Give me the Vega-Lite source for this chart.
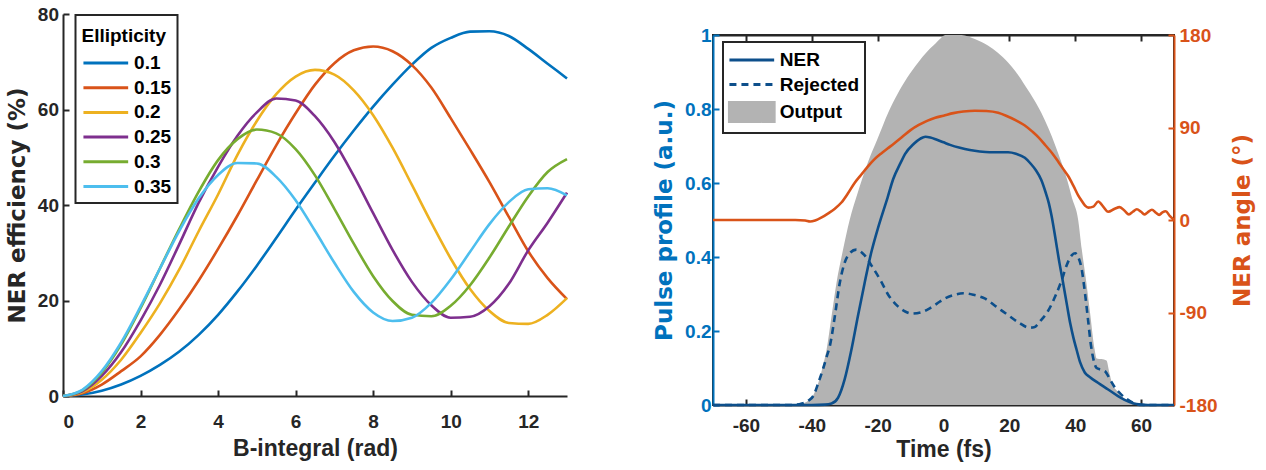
{
  "$schema": "https://vega.github.io/schema/vega-lite/v6.json",
  "background": "white",
  "padding": {"left": 6, "top": 5, "right": 2, "bottom": 2},
  "config": {
    "font": "Liberation Sans",
    "view": {"stroke": null},
    "axis": {
      "labelFont": "Liberation Sans", "titleFont": "Liberation Sans",
      "labelFontWeight": "bold", "titleFontWeight": "bold",
      "labelFontSize": 19, "titleFontSize": 23,
      "labelColor": "#262626", "titleColor": "#262626",
      "domainColor": "#262626", "tickColor": "#262626",
      "domainWidth": 2, "tickWidth": 2, "grid": false,
      "tickSize": -6, "labelPadding": 12, "zindex": 1
    },
    "axisY": {"titleFont": "DejaVu Sans", "titleFontSize": 23},
    "concat": {"spacing": 79}
  },
  "resolve": {"scale": {"color": "independent"}, "legend": {"color": "independent"}},
  "hconcat": [
    {
      "width": 504,
      "height": 382,
      "data": {"values": [
        {"b":0,"e":0,"k":"0.1"},{"b":0.5,"e":0.3,"k":"0.1"},{"b":1,"e":1.1,"k":"0.1"},{"b":1.5,"e":2.4,"k":"0.1"},{"b":2,"e":4.2,"k":"0.1"},{"b":2.5,"e":6.5,"k":"0.1"},{"b":3,"e":9.3,"k":"0.1"},{"b":3.5,"e":12.8,"k":"0.1"},{"b":4,"e":17.0,"k":"0.1"},{"b":4.5,"e":21.9,"k":"0.1"},{"b":5,"e":27.3,"k":"0.1"},{"b":5.5,"e":33.1,"k":"0.1"},{"b":6,"e":39.0,"k":"0.1"},{"b":6.5,"e":44.7,"k":"0.1"},{"b":7,"e":50.3,"k":"0.1"},{"b":7.5,"e":55.6,"k":"0.1"},{"b":8,"e":60.6,"k":"0.1"},{"b":8.5,"e":65.2,"k":"0.1"},{"b":9,"e":69.4,"k":"0.1"},{"b":9.5,"e":72.9,"k":"0.1"},{"b":10,"e":75.0,"k":"0.1"},{"b":10.5,"e":76.3,"k":"0.1"},{"b":11,"e":76.4,"k":"0.1"},{"b":11.5,"e":75.4,"k":"0.1"},{"b":12,"e":72.7,"k":"0.1"},{"b":12.5,"e":69.6,"k":"0.1"},{"b":13,"e":66.5,"k":"0.1"},
        {"b":0,"e":0,"k":"0.15"},{"b":0.5,"e":0.6,"k":"0.15"},{"b":1,"e":2.4,"k":"0.15"},{"b":1.5,"e":5.2,"k":"0.15"},{"b":2,"e":8.3,"k":"0.15"},{"b":2.5,"e":12.8,"k":"0.15"},{"b":3,"e":18.2,"k":"0.15"},{"b":3.5,"e":24.2,"k":"0.15"},{"b":4,"e":30.8,"k":"0.15"},{"b":4.5,"e":37.8,"k":"0.15"},{"b":5,"e":45.2,"k":"0.15"},{"b":5.5,"e":52.5,"k":"0.15"},{"b":6,"e":59.2,"k":"0.15"},{"b":6.5,"e":65.2,"k":"0.15"},{"b":7,"e":69.7,"k":"0.15"},{"b":7.5,"e":72.4,"k":"0.15"},{"b":8,"e":73.2,"k":"0.15"},{"b":8.5,"e":72.2,"k":"0.15"},{"b":9,"e":69.3,"k":"0.15"},{"b":9.5,"e":64.6,"k":"0.15"},{"b":10,"e":58.2,"k":"0.15"},{"b":10.5,"e":51.6,"k":"0.15"},{"b":11,"e":44.8,"k":"0.15"},{"b":11.5,"e":37.5,"k":"0.15"},{"b":12,"e":30.3,"k":"0.15"},{"b":12.5,"e":24.7,"k":"0.15"},{"b":13,"e":20.3,"k":"0.15"},
        {"b":0,"e":0,"k":"0.2"},{"b":0.5,"e":0.8,"k":"0.2"},{"b":1,"e":3.4,"k":"0.2"},{"b":1.5,"e":7.6,"k":"0.2"},{"b":2,"e":13.2,"k":"0.2"},{"b":2.5,"e":19.4,"k":"0.2"},{"b":3,"e":26.5,"k":"0.2"},{"b":3.5,"e":34.5,"k":"0.2"},{"b":4,"e":42.2,"k":"0.2"},{"b":4.5,"e":50.5,"k":"0.2"},{"b":5,"e":57.6,"k":"0.2"},{"b":5.5,"e":63.2,"k":"0.2"},{"b":6,"e":66.9,"k":"0.2"},{"b":6.5,"e":68.3,"k":"0.2"},{"b":7,"e":67.3,"k":"0.2"},{"b":7.5,"e":64.0,"k":"0.2"},{"b":8,"e":58.8,"k":"0.2"},{"b":8.5,"e":52.0,"k":"0.2"},{"b":9,"e":44.2,"k":"0.2"},{"b":9.5,"e":36.3,"k":"0.2"},{"b":10,"e":28.8,"k":"0.2"},{"b":10.5,"e":22.4,"k":"0.2"},{"b":11,"e":17.8,"k":"0.2"},{"b":11.5,"e":15.3,"k":"0.2"},{"b":12,"e":15.1,"k":"0.2"},{"b":12.5,"e":17.0,"k":"0.2"},{"b":13,"e":20.5,"k":"0.2"},
        {"b":0,"e":0,"k":"0.25"},{"b":0.5,"e":1.0,"k":"0.25"},{"b":1,"e":4.2,"k":"0.25"},{"b":1.5,"e":9.2,"k":"0.25"},{"b":2,"e":15.8,"k":"0.25"},{"b":2.5,"e":23.3,"k":"0.25"},{"b":3,"e":31.8,"k":"0.25"},{"b":3.5,"e":40.5,"k":"0.25"},{"b":4,"e":48.0,"k":"0.25"},{"b":4.5,"e":54.5,"k":"0.25"},{"b":5,"e":59.4,"k":"0.25"},{"b":5.5,"e":62.3,"k":"0.25"},{"b":6,"e":61.9,"k":"0.25"},{"b":6.5,"e":58.6,"k":"0.25"},{"b":7,"e":53.2,"k":"0.25"},{"b":7.5,"e":46.1,"k":"0.25"},{"b":8,"e":38.3,"k":"0.25"},{"b":8.5,"e":30.6,"k":"0.25"},{"b":9,"e":23.9,"k":"0.25"},{"b":9.5,"e":19.0,"k":"0.25"},{"b":10,"e":16.4,"k":"0.25"},{"b":10.5,"e":16.6,"k":"0.25"},{"b":11,"e":18.8,"k":"0.25"},{"b":11.5,"e":23.5,"k":"0.25"},{"b":12,"e":30.5,"k":"0.25"},{"b":12.5,"e":36.3,"k":"0.25"},{"b":13,"e":42.6,"k":"0.25"},
        {"b":0,"e":0,"k":"0.3"},{"b":0.5,"e":1.2,"k":"0.3"},{"b":1,"e":4.9,"k":"0.3"},{"b":1.5,"e":10.8,"k":"0.3"},{"b":2,"e":18.4,"k":"0.3"},{"b":2.5,"e":26.7,"k":"0.3"},{"b":3,"e":35.0,"k":"0.3"},{"b":3.5,"e":42.8,"k":"0.3"},{"b":4,"e":49.4,"k":"0.3"},{"b":4.5,"e":53.8,"k":"0.3"},{"b":5,"e":55.8,"k":"0.3"},{"b":5.5,"e":55.0,"k":"0.3"},{"b":6,"e":51.7,"k":"0.3"},{"b":6.5,"e":46.2,"k":"0.3"},{"b":7,"e":39.2,"k":"0.3"},{"b":7.5,"e":31.9,"k":"0.3"},{"b":8,"e":25.1,"k":"0.3"},{"b":8.5,"e":19.9,"k":"0.3"},{"b":9,"e":17.0,"k":"0.3"},{"b":9.5,"e":16.7,"k":"0.3"},{"b":10,"e":18.9,"k":"0.3"},{"b":10.5,"e":23.2,"k":"0.3"},{"b":11,"e":29.0,"k":"0.3"},{"b":11.5,"e":35.5,"k":"0.3"},{"b":12,"e":41.8,"k":"0.3"},{"b":12.5,"e":46.9,"k":"0.3"},{"b":13,"e":49.6,"k":"0.3"},
        {"b":0,"e":0,"k":"0.35"},{"b":0.5,"e":1.3,"k":"0.35"},{"b":1,"e":5.2,"k":"0.35"},{"b":1.5,"e":11.2,"k":"0.35"},{"b":2,"e":18.7,"k":"0.35"},{"b":2.5,"e":26.7,"k":"0.35"},{"b":3,"e":34.6,"k":"0.35"},{"b":3.5,"e":41.4,"k":"0.35"},{"b":4,"e":46.3,"k":"0.35"},{"b":4.5,"e":48.8,"k":"0.35"},{"b":5,"e":48.7,"k":"0.35"},{"b":5.5,"e":45.9,"k":"0.35"},{"b":6,"e":41.0,"k":"0.35"},{"b":6.5,"e":34.6,"k":"0.35"},{"b":7,"e":27.9,"k":"0.35"},{"b":7.5,"e":21.8,"k":"0.35"},{"b":8,"e":17.5,"k":"0.35"},{"b":8.5,"e":15.7,"k":"0.35"},{"b":9,"e":16.4,"k":"0.35"},{"b":9.5,"e":19.5,"k":"0.35"},{"b":10,"e":24.4,"k":"0.35"},{"b":10.5,"e":30.2,"k":"0.35"},{"b":11,"e":36.0,"k":"0.35"},{"b":11.5,"e":40.6,"k":"0.35"},{"b":12,"e":43.3,"k":"0.35"},{"b":12.5,"e":43.5,"k":"0.35"},{"b":13,"e":42.0,"k":"0.35"}
      ]},
      "mark": {"type": "line", "strokeWidth": 2.6, "interpolate": "monotone"},
      "encoding": {
        "x": {"field": "b", "type": "quantitative", "scale": {"domain": [0, 13], "nice": false},
              "axis": {"values": [0, 2, 4, 6, 8, 10, 12], "title": "B-integral (rad)", "labelPadding": 22, "titlePadding": 6}},
        "y": {"field": "e", "type": "quantitative", "scale": {"domain": [0, 80], "nice": false},
              "axis": {"values": [0, 20, 40, 60, 80], "title": "NER efficiency (%)", "labelPadding": 10.5, "titlePadding": 8}},
        "color": {"field": "k", "type": "nominal",
                  "scale": {"domain": ["0.1", "0.15", "0.2", "0.25", "0.3", "0.35"],
                            "range": ["#0072BD", "#D95319", "#EDB120", "#7E2F8E", "#77AC30", "#4DBEEE"]},
                  "legend": {"orient": "none", "legendX": 12.5, "legendY": 1, "title": "Ellipticity",
                             "titleFont": "Liberation Sans", "titleFontSize": 19, "titleFontWeight": "bold", "titleColor": "#000000",
                             "labelFont": "Liberation Sans", "labelFontSize": 19, "labelFontWeight": "bold", "labelColor": "#000000",
                             "symbolSize": 500, "symbolOffset": 11.3, "labelOffset": 15.3,
                             "strokeColor": "#262626", "fillColor": "white", "padding": 6,
                             "rowPadding": 1.7, "titlePadding": 10,
                             "encode": {
                               "legend": {"update": {"strokeWidth": {"value": 2}}},
                               "title": {"update": {"dy": {"value": 6}}},
                               "symbols": {"update": {
                                 "shape": {"value": "M-2,0H2"},
                                 "strokeWidth": {"value": 3},
                                 "fill": {"value": "transparent"},
                                 "opacity": {"value": 1}
                               }}
                             }}}
      }
    },
    {
      "spacing": 7,
      "vconcat": [
        {
          "width": 461,
          "height": 1,
          "data": {"values": [{"z": 0}]},
          "mark": {"type": "point", "opacity": 0}
        },
        {
          "width": 461,
          "height": 370,
          "view": {"stroke": "#262626", "strokeWidth": 2},
          "layer": [
            {
              "data": {"values": [
                {"t":-70,"v":0,"s":"Output"},{"t":-45,"v":0,"s":"Output"},{"t":-43,"v":0.003,"s":"Output"},{"t":-41,"v":0.012,"s":"Output"},{"t":-40,"v":0.02,"s":"Output"},{"t":-38,"v":0.06,"s":"Output"},{"t":-36.5,"v":0.11,"s":"Output"},{"t":-35.5,"v":0.15,"s":"Output"},{"t":-34,"v":0.24,"s":"Output"},{"t":-32.5,"v":0.33,"s":"Output"},{"t":-30.5,"v":0.42,"s":"Output"},{"t":-28.5,"v":0.5,"s":"Output"},{"t":-26,"v":0.575,"s":"Output"},{"t":-23,"v":0.655,"s":"Output"},{"t":-20,"v":0.72,"s":"Output"},{"t":-16.8,"v":0.79,"s":"Output"},{"t":-14,"v":0.84,"s":"Output"},{"t":-11,"v":0.885,"s":"Output"},{"t":-7.7,"v":0.926,"s":"Output"},{"t":-5,"v":0.955,"s":"Output"},{"t":-3,"v":0.972,"s":"Output"},{"t":-1,"v":0.99,"s":"Output"},{"t":0.5,"v":1.0,"s":"Output"},{"t":5.5,"v":1.0,"s":"Output"},{"t":9.5,"v":0.989,"s":"Output"},{"t":13.6,"v":0.971,"s":"Output"},{"t":16.5,"v":0.952,"s":"Output"},{"t":19.6,"v":0.926,"s":"Output"},{"t":22,"v":0.9,"s":"Output"},{"t":25,"v":0.86,"s":"Output"},{"t":27.5,"v":0.825,"s":"Output"},{"t":29.7,"v":0.79,"s":"Output"},{"t":32,"v":0.745,"s":"Output"},{"t":34,"v":0.7,"s":"Output"},{"t":35.8,"v":0.656,"s":"Output"},{"t":37.5,"v":0.61,"s":"Output"},{"t":39,"v":0.56,"s":"Output"},{"t":40.9,"v":0.5,"s":"Output"},{"t":42,"v":0.42,"s":"Output"},{"t":43.4,"v":0.33,"s":"Output"},{"t":44.5,"v":0.25,"s":"Output"},{"t":45.9,"v":0.15,"s":"Output"},{"t":46.5,"v":0.126,"s":"Output"},{"t":48,"v":0.124,"s":"Output"},{"t":49.5,"v":0.12,"s":"Output"},{"t":50.3,"v":0.09,"s":"Output"},{"t":51,"v":0.065,"s":"Output"},{"t":53,"v":0.035,"s":"Output"},{"t":55,"v":0.015,"s":"Output"},{"t":57.5,"v":0.002,"s":"Output"},{"t":59,"v":0,"s":"Output"},{"t":70,"v":0,"s":"Output"},
                {"t":-70,"v":0,"s":"NER"},{"t":-40,"v":0,"s":"NER"},{"t":-36,"v":0.001,"s":"NER"},{"t":-34,"v":0.004,"s":"NER"},{"t":-32,"v":0.02,"s":"NER"},{"t":-30,"v":0.07,"s":"NER"},{"t":-28,"v":0.148,"s":"NER"},{"t":-26,"v":0.24,"s":"NER"},{"t":-24,"v":0.328,"s":"NER"},{"t":-22,"v":0.41,"s":"NER"},{"t":-20,"v":0.475,"s":"NER"},{"t":-18.8,"v":0.51,"s":"NER"},{"t":-17,"v":0.56,"s":"NER"},{"t":-15.3,"v":0.61,"s":"NER"},{"t":-13,"v":0.655,"s":"NER"},{"t":-11.7,"v":0.678,"s":"NER"},{"t":-9,"v":0.706,"s":"NER"},{"t":-7,"v":0.72,"s":"NER"},{"t":-5.5,"v":0.725,"s":"NER"},{"t":-4,"v":0.723,"s":"NER"},{"t":-2,"v":0.717,"s":"NER"},{"t":0,"v":0.71,"s":"NER"},{"t":2,"v":0.703,"s":"NER"},{"t":5,"v":0.695,"s":"NER"},{"t":8,"v":0.689,"s":"NER"},{"t":11,"v":0.685,"s":"NER"},{"t":14,"v":0.683,"s":"NER"},{"t":17,"v":0.683,"s":"NER"},{"t":19.6,"v":0.683,"s":"NER"},{"t":22,"v":0.679,"s":"NER"},{"t":24.7,"v":0.668,"s":"NER"},{"t":26.5,"v":0.652,"s":"NER"},{"t":28,"v":0.635,"s":"NER"},{"t":29.7,"v":0.608,"s":"NER"},{"t":31,"v":0.575,"s":"NER"},{"t":32,"v":0.545,"s":"NER"},{"t":32.8,"v":0.512,"s":"NER"},{"t":34,"v":0.45,"s":"NER"},{"t":35,"v":0.395,"s":"NER"},{"t":36.3,"v":0.331,"s":"NER"},{"t":37.5,"v":0.27,"s":"NER"},{"t":38.5,"v":0.22,"s":"NER"},{"t":39.5,"v":0.18,"s":"NER"},{"t":40.4,"v":0.15,"s":"NER"},{"t":41.5,"v":0.115,"s":"NER"},{"t":42.9,"v":0.088,"s":"NER"},{"t":44.5,"v":0.075,"s":"NER"},{"t":46.9,"v":0.06,"s":"NER"},{"t":50,"v":0.042,"s":"NER"},{"t":53,"v":0.024,"s":"NER"},{"t":55,"v":0.014,"s":"NER"},{"t":57.5,"v":0.005,"s":"NER"},{"t":60,"v":0.001,"s":"NER"},{"t":62,"v":0,"s":"NER"},{"t":70,"v":0,"s":"NER"},
                {"t":-70,"v":0,"s":"Rejected"},{"t":-46,"v":0,"s":"Rejected"},{"t":-43,"v":0.004,"s":"Rejected"},{"t":-41,"v":0.012,"s":"Rejected"},{"t":-39.5,"v":0.025,"s":"Rejected"},{"t":-38,"v":0.06,"s":"Rejected"},{"t":-36.5,"v":0.1,"s":"Rejected"},{"t":-35.5,"v":0.13,"s":"Rejected"},{"t":-34.5,"v":0.16,"s":"Rejected"},{"t":-33,"v":0.24,"s":"Rejected"},{"t":-31.5,"v":0.33,"s":"Rejected"},{"t":-30,"v":0.385,"s":"Rejected"},{"t":-28.5,"v":0.41,"s":"Rejected"},{"t":-26.5,"v":0.42,"s":"Rejected"},{"t":-24,"v":0.405,"s":"Rejected"},{"t":-21.8,"v":0.376,"s":"Rejected"},{"t":-19,"v":0.335,"s":"Rejected"},{"t":-16.8,"v":0.298,"s":"Rejected"},{"t":-14,"v":0.268,"s":"Rejected"},{"t":-11.5,"v":0.252,"s":"Rejected"},{"t":-9.7,"v":0.247,"s":"Rejected"},{"t":-7,"v":0.25,"s":"Rejected"},{"t":-4.6,"v":0.259,"s":"Rejected"},{"t":-2,"v":0.274,"s":"Rejected"},{"t":0.4,"v":0.288,"s":"Rejected"},{"t":3,"v":0.297,"s":"Rejected"},{"t":6,"v":0.302,"s":"Rejected"},{"t":9,"v":0.298,"s":"Rejected"},{"t":12.5,"v":0.288,"s":"Rejected"},{"t":16,"v":0.266,"s":"Rejected"},{"t":19.6,"v":0.243,"s":"Rejected"},{"t":23,"v":0.222,"s":"Rejected"},{"t":26,"v":0.209,"s":"Rejected"},{"t":27.5,"v":0.21,"s":"Rejected"},{"t":29.5,"v":0.228,"s":"Rejected"},{"t":31.8,"v":0.255,"s":"Rejected"},{"t":34,"v":0.295,"s":"Rejected"},{"t":35.8,"v":0.335,"s":"Rejected"},{"t":37.5,"v":0.38,"s":"Rejected"},{"t":39,"v":0.405,"s":"Rejected"},{"t":40,"v":0.41,"s":"Rejected"},{"t":41,"v":0.398,"s":"Rejected"},{"t":41.9,"v":0.37,"s":"Rejected"},{"t":43,"v":0.3,"s":"Rejected"},{"t":43.9,"v":0.23,"s":"Rejected"},{"t":44.8,"v":0.16,"s":"Rejected"},{"t":45.5,"v":0.125,"s":"Rejected"},{"t":46.5,"v":0.1,"s":"Rejected"},{"t":48,"v":0.095,"s":"Rejected"},{"t":49.2,"v":0.09,"s":"Rejected"},{"t":50.5,"v":0.07,"s":"Rejected"},{"t":52,"v":0.048,"s":"Rejected"},{"t":54,"v":0.028,"s":"Rejected"},{"t":55.5,"v":0.017,"s":"Rejected"},{"t":57.5,"v":0.006,"s":"Rejected"},{"t":60,"v":0,"s":"Rejected"},{"t":70,"v":0,"s":"Rejected"}
              ]},
              "encoding": {
                "x": {"field": "t", "type": "quantitative", "scale": {"domain": [-70, 70], "nice": false},
                      "axis": {"values": [-60, -40, -20, 0, 20, 40, 60], "labelExpr": "datum.value + ''", "title": "Time (fs)", "labelPadding": 17, "titlePadding": 3}},
                "y": {"field": "v", "type": "quantitative", "scale": {"domain": [0, 1], "nice": false},
                      "axis": {"values": [0, 0.2, 0.4, 0.6, 0.8, 1], "format": "~g", "title": "Pulse profile (a.u.)",
                               "labelColor": "#0072BD", "titleColor": "#0072BD", "domainColor": "#0072BD", "tickColor": "#0072BD",
                               "labelPadding": 8, "titlePadding": 8}},
                "color": {"field": "s", "type": "nominal",
                          "scale": {"domain": ["NER", "Rejected", "Output"], "range": ["#0D4F8B", "#0D4F8B", "#B3B3B3"]},
                          "legend": {"orient": "none", "legendX": 10, "legendY": 28, "title": null,
                                     "labelFont": "Liberation Sans", "labelFontSize": 19, "labelFontWeight": "bold", "labelColor": "#000000",
                                     "strokeColor": "#262626", "fillColor": "white", "padding": 5, "rowPadding": 1.5,
                                     "symbolSize": 500, "symbolOffset": 10.8, "labelOffset": 15,
                                     "encode": {
                                       "legend": {"update": {"strokeWidth": {"value": 2}}},
                                       "symbols": {"update": {
                                         "shape": {"signal": "datum.value === 'Output' ? 'M-2,-0.85H2V0.85H-2Z' : 'M-2,0H2'"},
                                         "fill": {"signal": "datum.value === 'Output' ? '#B3B3B3' : 'transparent'"},
                                         "stroke": {"signal": "datum.value === 'Output' ? 'transparent' : '#0D4F8B'"},
                                         "strokeDash": {"signal": "datum.value === 'Rejected' ? [7, 5] : [1, 0]"},
                                         "strokeWidth": {"value": 3},
                                         "size": {"value": 500},
                                         "opacity": {"value": 1}
                                       }}
                                     }}}
              },
              "layer": [
                {"transform": [{"filter": "datum.s === 'Output'"}], "mark": {"type": "area", "opacity": 1, "interpolate": "monotone"}},
                {"transform": [{"filter": "datum.s === 'NER'"}], "mark": {"type": "line", "strokeWidth": 2.6, "interpolate": "monotone"}},
                {"transform": [{"filter": "datum.s === 'Rejected'"}], "mark": {"type": "line", "strokeWidth": 2.6, "strokeDash": [7, 5], "interpolate": "monotone"}}
              ]
            },
            {
              "layer": [
                {
                  "data": {"values": [
                    {"t":-70,"a":0},{"t":-45,"a":0},{"t":-42,"a":-0.5},{"t":-40.5,"a":-1.5},{"t":-39,"a":-0.5},{"t":-37,"a":2.5},{"t":-35,"a":6.5},{"t":-33,"a":11},{"t":-31,"a":17},{"t":-29,"a":26},{"t":-27,"a":36},{"t":-25,"a":44},{"t":-23,"a":52},{"t":-21,"a":59},{"t":-19,"a":64.5},{"t":-17,"a":69.5},{"t":-15,"a":74.5},{"t":-12.5,"a":81},{"t":-10,"a":87.5},{"t":-7.5,"a":92.5},{"t":-5,"a":96.5},{"t":-2.5,"a":99.5},{"t":0,"a":101.5},{"t":3,"a":104},{"t":6,"a":105.5},{"t":9.5,"a":106.3},{"t":13,"a":106},{"t":16.6,"a":104.3},{"t":19,"a":101.5},{"t":22,"a":97},{"t":24.7,"a":92},{"t":27,"a":86},{"t":29,"a":80},{"t":31,"a":72.5},{"t":33,"a":65},{"t":35,"a":56},{"t":36.5,"a":49},{"t":37.8,"a":43},{"t":39.5,"a":33},{"t":40.9,"a":24},{"t":42,"a":18.5},{"t":43,"a":14},{"t":44,"a":12},{"t":45.5,"a":13},{"t":47,"a":18},{"t":48.5,"a":13},{"t":50,"a":8},{"t":52,"a":11},{"t":53.5,"a":12.5},{"t":55,"a":9},{"t":56.3,"a":5.5},{"t":57.5,"a":8},{"t":58.7,"a":10.5},{"t":60,"a":8},{"t":61,"a":5.5},{"t":62,"a":7.5},{"t":63.3,"a":10},{"t":64.5,"a":7},{"t":65.5,"a":5},{"t":66.5,"a":7.5},{"t":67.5,"a":8.5},{"t":68.7,"a":4},{"t":70,"a":0}
                  ]},
                  "mark": {"type": "line", "color": "#D95319", "strokeWidth": 2.6, "interpolate": "monotone"},
                  "encoding": {
                    "x": {"field": "t", "type": "quantitative",
                          "axis": {"orient": "top", "values": [-60, -40, -20, 0, 20, 40, 60], "labels": false, "title": null}},
                    "y": {"field": "a", "type": "quantitative", "scale": {"domain": [-180, 180], "nice": false},
                          "axis": {"orient": "right", "values": [-180, -90, 0, 90, 180], "labelExpr": "datum.value + ''", "title": "NER angle (°)",
                                   "labelColor": "#D95319", "titleColor": "#D95319", "domainColor": "#D95319", "tickColor": "#D95319",
                                   "labelPadding": 11, "titleAngle": 270, "titleBaseline": "top", "titlePadding": 14}}
                  }
                },
                {
                  "mark": {"type": "rule", "color": "#D95319", "strokeWidth": 2.6, "strokeDash": [9, 7]},
                  "encoding": {"y": {"datum": 90, "type": "quantitative"}}
                }
              ]
            }
          ],
          "resolve": {"scale": {"y": "independent"}, "axis": {"x": "independent"}}
        }
      ]
    }
  ]
}
